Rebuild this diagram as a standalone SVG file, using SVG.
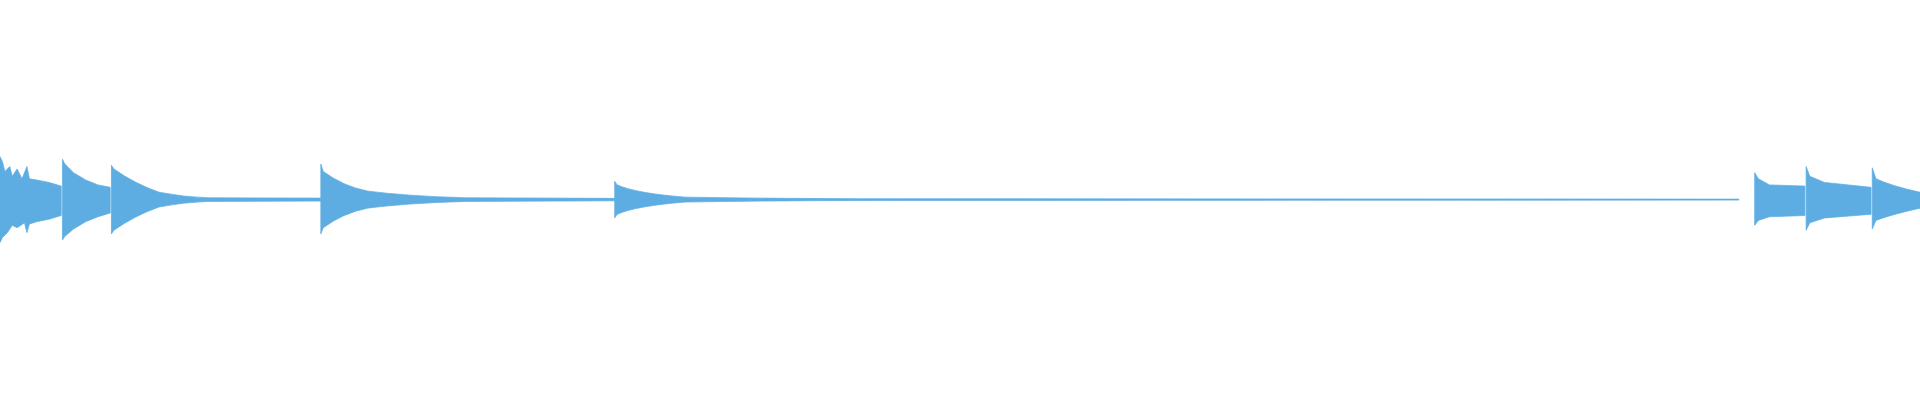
<svg xmlns="http://www.w3.org/2000/svg" width="1920" height="400" viewBox="0 0 1920 400">
<style>.w{fill:#5dade2;stroke:#5dade2;stroke-width:0.6}</style>
<rect width="1920" height="400" fill="#ffffff"/>
<g transform="scale(1.2245)">
<path class="w" d="M0,128 L2,132 L4,140 L8,136 L10,144 L14,138 L18,146 L22,136 L24,146 L30,147 L40,149 L50,152 L50,176 L40,179 L30,181 L24,183 L22,190 L20,182 L14,186 L10,184 L6,190 L2,194 L0,198 Z"/>
<path class="w" d="M51,130 L53,134 L60,141 L70,147 L80,151 L90,153 L90,174 L80,177 L70,181 L60,187 L53,193 L51,196 Z"/>
<path class="w" d="M91,135 L93,138 Q110,150 130,157 Q150,161 170,161.5 L262,161.8 L262,164.2 L170,164.5 Q150,165 130,169 Q110,176 93,188 L91,191 Z"/>
<path class="w" d="M262,134 L264,140 Q280,152 300,156 Q330,160 380,161.5 L502,162 L502,164 L380,164.5 Q330,166 300,170 Q280,174 264,186 L262,191 Z"/>
<path class="w" d="M502,148 L504,151 Q520,158 560,161 Q620,162 700,162.3 L1420,162.6 L1420,163.4 L700,163.7 Q620,164 560,165 Q520,168 504,175 L502,178 Z"/>
<path class="w" d="M1433,141 L1436,146 L1445,151 L1474,152 L1474,176 L1445,177 L1436,180 L1433,184 Z"/>
<path class="w" d="M1475,136 L1478,144 L1490,149 L1528,153 L1528,175 L1490,178 L1478,182 L1475,188 Z"/>
<path class="w" d="M1529,137 L1532,146 Q1545,152 1568,157 L1568,170 Q1545,175 1532,180 L1529,187 Z"/>
</g>
</svg>
